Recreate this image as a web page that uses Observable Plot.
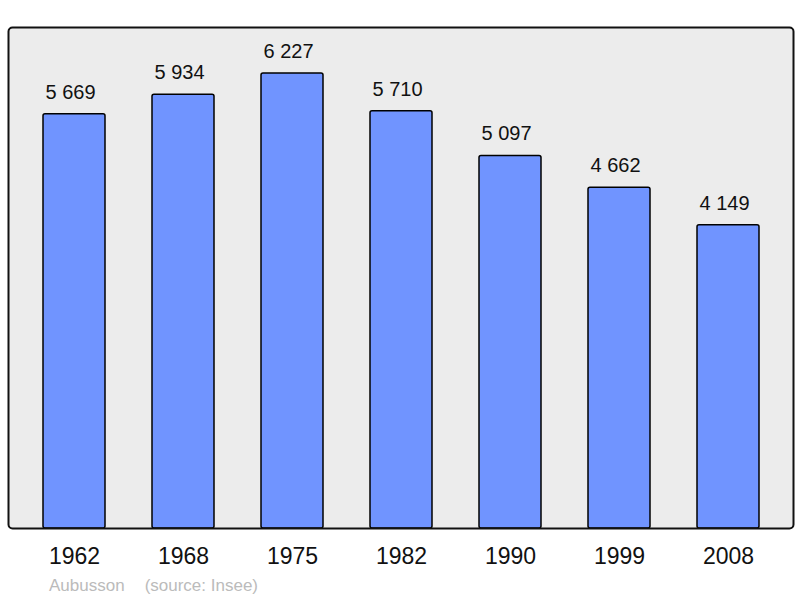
<!DOCTYPE html>
<html><head><meta charset="utf-8">
<script src="https://cdn.jsdelivr.net/npm/d3@7"></script>
<script src="https://cdn.jsdelivr.net/npm/@observablehq/plot@0.6"></script>
<style>
body{margin:0;background:#fff;font-family:"Liberation Sans",Arial,sans-serif;}
#wrap{position:relative;width:800px;height:598px;}
#cap{position:absolute;left:49px;top:576px;font-size:17px;color:#bbbbbb;white-space:pre;}
#cap span{margin-left:20px;}
</style></head><body>
<div id="wrap"><div id="chart"></div><div id="cap">Aubusson<span>(source: Insee)</span></div></div>
<script>
const years = ["1962","1968","1975","1982","1990","1999","2008"];
const population = [5669,5934,6227,5710,5097,4662,4149];
const labels = ["5 669","5 934","6 227","5 710","5 097","4 662","4 149"];
const data = years.map((y,i)=>({year:y, pop:population[i], label:labels[i]}));
const chart = Plot.plot({
  width:800, height:598,
  marginTop:27, marginBottom:70, marginLeft:8, marginRight:7,
  style:{fontFamily:"Liberation Sans, Arial, sans-serif", background:"#fff"},
  x:{domain:years, paddingInner:0.433, paddingOuter:0.29, axis:null},
  y:{domain:[0,6856], axis:null},
  marks:[
    Plot.frame({fill:"#ececec", stroke:"none", rx:4}),
    Plot.barY(data,{x:"year", y:"pop", fill:"#7094ff", stroke:"#000", strokeWidth:1.5, rx:2}),
    Plot.text(data,{x:"year", y:"pop", text:"label", dy:-22, dx:-4, fontSize:20, fill:"#111"}),
    Plot.text(data,{x:"year", text:"year", frameAnchor:"bottom", dy:35, fontSize:23, fill:"#111"}),
    Plot.frame({stroke:"#111", strokeWidth:2, rx:4, fill:"none"})
  ]
});
document.getElementById("chart").appendChild(chart);
</script></body></html>
